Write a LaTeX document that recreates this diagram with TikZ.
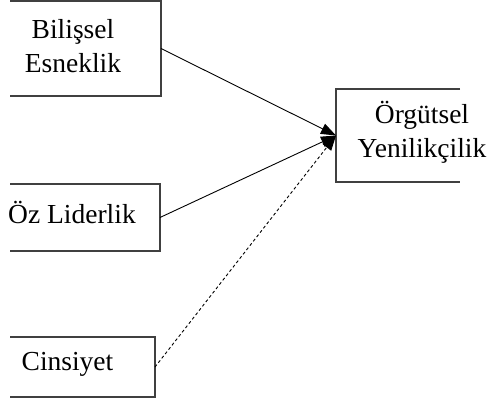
\documentclass[tikz,border=0pt]{standalone}
\usepackage{fontspec}
\setmainfont{Liberation Serif}
\usetikzlibrary{arrows.meta}
\begin{document}
\begin{tikzpicture}[x=1pt,y=-1pt,
  boxshape/.style={draw=none,inner sep=0pt,outer sep=0pt,minimum width=#1,rectangle},
  border/.style={draw=black!75,line width=1.2pt},
  lbl/.style={font=\fontsize{27.5}{34}\selectfont,align=center,inner sep=0pt},
  conn/.style={line width=0.9pt,-{Triangle[length=15pt,width=11pt]}}]
\useasboundingbox (0,0) rectangle (491,401);
% boxes
\node[boxshape=151pt,minimum height=95pt] (b1) at (85.5,48.5) {};
\node[boxshape=150pt,minimum height=67pt] (b2) at (85,217.5) {};
\node[boxshape=145pt,minimum height=60pt] (b3) at (82.5,367) {};
\node[boxshape=124pt,minimum height=93pt] (r) at (398,135.5) {};
\draw[border] (b1.north west) -- (b1.north east) -- (b1.south east) -- (b1.south west);
\draw[border] (b2.north west) -- (b2.north east) -- (b2.south east) -- (b2.south west);
\draw[border] (b3.north west) -- (b3.north east) -- (b3.south east) -- (b3.south west);
\draw[border] (r.north east) -- (r.north west) -- (r.south west) -- (r.south east);
% texts
\node[lbl] (t1) at (73,46) {Bilişsel\\Esneklik};
\node[lbl] (t2) at (72,212) {Öz Liderlik};
\node[lbl] (t3) at (67.5,364) {Cinsiyet};
\node[lbl] (t4) at (422,132) {Örgütsel\\Yenilikçilik};
% connectors
\coordinate (tip) at (r.west);
\draw[conn] (b1.east) -- (tip);
\draw[conn] (b2.east) -- (tip);
\draw[conn,dash pattern=on 3pt off 2.5pt] (b3.east) -- (tip);
\end{tikzpicture}
\end{document}
